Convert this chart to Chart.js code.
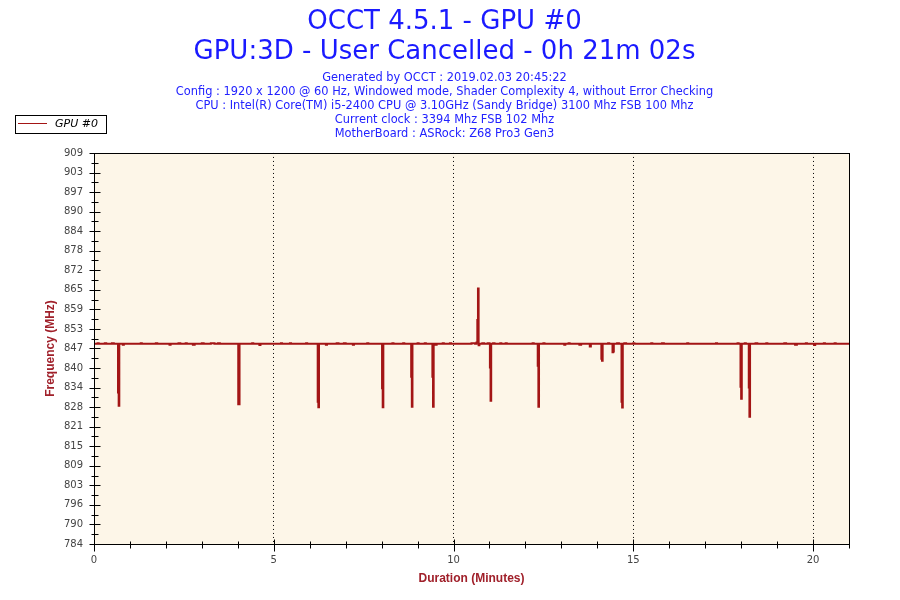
<!DOCTYPE html>
<html>
<head>
  <meta charset="UTF-8">
  <title>OCCT 4.5.1 - GPU #0</title>
  <script src="https://cdn.jsdelivr.net/npm/chart.js"></script>
  <style>
    body {
      margin: 0;
      background-color: #ffffff;
    }
    canvas {
      display: block;
    }
  </style>
</head>
<body>
  <canvas id="gpuChart" width="900" height="600"></canvas>

  <script>
    // minutes / MHz
    const minutes = [
      0, 0.1, 0.13, 0.3, 0.34, 0.5, 0.55, 0.668, 0.686, 0.704,
      0.8, 0.83, 1.3, 1.33, 1.72, 1.76, 2.1, 2.13, 2.35, 2.4,
      2.55, 2.58, 2.75, 2.8, 3.0, 3.05, 3.25, 3.35, 3.45, 3.5,
      4.012, 4.03, 4.048, 4.4, 4.43, 4.6, 4.63, 5.2, 5.23, 5.45,
      5.48, 5.9, 5.93, 6.222, 6.24, 6.258, 6.45, 6.48, 6.75, 6.8,
      6.95, 7.0, 7.2, 7.23, 7.6, 7.63, 8.012, 8.03, 8.048, 8.3,
      8.33, 8.6, 8.63, 8.822, 8.84, 8.858, 9.0, 9.03, 9.2, 9.23,
      9.412, 9.43, 9.448, 9.5, 9.53, 9.7, 9.73, 9.9, 9.93, 10.5,
      10.6, 10.64, 10.662, 10.68, 10.698, 10.72, 10.8, 10.85, 10.95, 11.0,
      11.012, 11.03, 11.048, 11.1, 11.14, 11.3, 11.33, 11.45, 11.48, 12.2,
      12.23, 12.342, 12.36, 12.378, 12.5, 12.53, 13.08, 13.11, 13.2, 13.23,
      13.5, 13.55, 13.79, 13.82, 14.112, 14.13, 14.148, 14.3, 14.33, 14.422,
      14.44, 14.458, 14.55, 14.6, 14.672, 14.69, 14.708, 14.75, 14.8, 15.0,
      15.03, 15.5, 15.53, 15.8, 15.85, 16.5, 16.53, 17.3, 17.33, 17.9,
      17.93, 17.982, 18.0, 18.018, 18.1, 18.13, 18.212, 18.23, 18.248, 18.4,
      18.45, 18.7, 18.73, 19.2, 19.25, 19.5, 19.55, 19.8, 19.83, 20.03,
      20.06, 20.3, 20.33, 20.6, 20.63, 21
    ];
    const gpuMhz = [
      848, 848.2, 848, 848.2, 848, 848.2, 848, 832.4, 828.2, 848,
      847.7, 848, 848.2, 848, 848.2, 848, 847.7, 848, 848.2, 848,
      848.2, 848, 847.7, 848, 848.2, 848, 848.2, 848, 848.2, 848,
      828.7, 828.7, 848, 848.2, 848, 847.6, 848, 848.2, 848, 848.2,
      848, 848.2, 848, 829.5, 827.7, 848, 847.7, 848, 848.2, 848,
      848.2, 848, 847.7, 848, 848.2, 848, 833.8, 827.7, 848, 848.2,
      848, 848.2, 848, 837.5, 827.9, 848, 848.2, 848, 848.2, 848,
      837.5, 827.9, 848, 847.7, 848, 848.2, 848, 848.2, 848, 848.2,
      848, 848.4, 855.6, 865.7, 847.5, 848, 848.2, 848, 848.2, 848,
      840.4, 829.8, 848, 848.2, 848, 848.2, 848, 848.2, 848, 848.2,
      848, 841, 827.9, 848, 848.2, 848, 847.7, 848, 848.2, 848,
      847.7, 848, 847.1, 848, 843.2, 842.6, 848, 848.2, 848, 845.3,
      845.5, 848, 848.2, 848, 829.5, 827.6, 848, 848.2, 848, 848.2,
      848, 848.2, 848, 848.2, 848, 848.2, 848, 848.2, 848, 848.2,
      848, 834.3, 830.4, 848, 848.2, 848, 834, 824.7, 848, 848.2,
      848, 848.2, 848, 848.2, 848, 847.7, 848, 848.2, 848, 847.6,
      848, 848.2, 848, 848.2, 848, 848
    ];
    const yTickLabels = ['784', '790', '796', '803', '809', '815', '821', '828', '834', '840',
      '847', '853', '859', '865', '872', '878', '884', '890', '897', '903', '909'];
    const xMajorTicks = [0, 5, 10, 15, 20];

    const titleLines = ['OCCT 4.5.1 - GPU #0', 'GPU:3D - User Cancelled - 0h 21m 02s'];
    const infoLines = [
      'Generated by OCCT : 2019.02.03 20:45:22',
      'Config : 1920 x 1200 @ 60 Hz, Windowed mode, Shader Complexity 4, without Error Checking',
      'CPU : Intel(R) Core(TM) i5-2400 CPU @ 3.10GHz (Sandy Bridge) 3100 Mhz FSB 100 Mhz',
      'Current clock : 3394 Mhz FSB 102 Mhz',
      'MotherBoard : ASRock: Z68 Pro3 Gen3'
    ];

    const lineColor = '#a31515';
    const axisTitleColor = '#a0202a';

    // cream plot background, black frame, tick crosses and the boxed legend
    const occtFrame = {
      id: 'occtFrame',
      beforeDraw(chart) {
        const a = chart.chartArea;
        const c = chart.ctx;
        c.save();
        c.fillStyle = '#fdf6e8';
        c.fillRect(a.left, a.top, a.right - a.left, a.bottom - a.top);
        c.restore();
      },
      afterDraw(chart) {
        const a = chart.chartArea;
        const c = chart.ctx;
        const xs = chart.scales.x;
        const ys = chart.scales.y;
        c.save();
        c.strokeStyle = '#000';
        c.lineWidth = 1;
        c.strokeRect(Math.round(a.left) + 0.5, Math.round(a.top) + 0.5,
          Math.round(a.right - a.left), Math.round(a.bottom - a.top));

        c.beginPath();
        const x0 = Math.round(a.left) + 0.5;
        ys.ticks.forEach((t, i) => {
          const py = Math.round(ys.getPixelForValue(t.value)) + 0.5;
          c.moveTo(x0 - 5, py); c.lineTo(x0 + 6, py);
          if (i < ys.ticks.length - 1) {
            const my = Math.round(ys.getPixelForValue(t.value + 3.125)) + 0.5;
            c.moveTo(x0 - 3, my); c.lineTo(x0 + 4, my);
          }
        });
        const y0 = Math.round(a.bottom) + 0.5;
        xs.ticks.forEach(t => {
          const px = Math.round(xs.getPixelForValue(t.value)) + 0.5;
          if (xMajorTicks.includes(t.value)) {
            c.moveTo(px, y0 - 5); c.lineTo(px, y0 + 7);
          } else {
            c.moveTo(px, y0 - 3); c.lineTo(px, y0 + 4);
          }
        });
        c.stroke();

        // legend box
        c.strokeRect(15.5, 115.5, 91, 18);
        c.strokeStyle = chart.data.datasets[0].borderColor;
        c.beginPath();
        c.moveTo(18, 123.5); c.lineTo(47, 123.5);
        c.stroke();
        c.fillStyle = '#000';
        c.font = 'italic 11px "DejaVu Sans"';
        c.textBaseline = 'middle';
        c.fillText(chart.data.datasets[0].label, 55, 124);
        c.restore();
      }
    };

    const ctx = document.getElementById('gpuChart').getContext('2d');
    const gpuChart = new Chart(ctx, {
      type: 'line',
      data: {
        labels: minutes,
        datasets: [{
          label: 'GPU #0',
          data: minutes.map((m, i) => ({ x: m, y: gpuMhz[i] })),
          borderColor: lineColor,
          borderWidth: 2,
          pointRadius: 0,
          stepped: true,
          fill: false
        }]
      },
      options: {
        responsive: false,
        animation: false,
        layout: {
          padding: { left: 40, right: 51, top: 0, bottom: 0 }
        },
        scales: {
          x: {
            type: 'linear',
            min: 0,
            max: 21,
            afterFit: s => { s.height = 56; },
            border: { display: false, dash: [1, 3] },
            grid: {
              drawTicks: false,
              color: c => (c.tick && [5, 10, 15, 20].includes(c.tick.value)) ? '#000' : 'rgba(0,0,0,0)',
              lineWidth: 1
            },
            ticks: {
              stepSize: 1,
              autoSkip: false,
              maxRotation: 0,
              padding: 10,
              color: '#444',
              font: { family: 'DejaVu Sans', size: 10 },
              callback: v => xMajorTicks.includes(v) ? String(v) : ''
            },
            title: {
              display: true,
              text: 'Duration (Minutes)',
              color: axisTitleColor,
              font: { family: 'Liberation Sans', size: 12, weight: 'bold' },
              padding: { top: 0, bottom: 14 }
            }
          },
          y: {
            min: 784,
            max: 909,
            afterFit: s => { s.width = 54; },
            border: { display: false },
            grid: { drawTicks: false, drawOnChartArea: false },
            ticks: {
              stepSize: 6.25,
              autoSkip: false,
              padding: 11,
              color: '#444',
              font: { family: 'DejaVu Sans', size: 10 },
              callback: (v, i) => yTickLabels[i]
            },
            title: {
              display: true,
              text: 'Frequency (MHz)',
              color: axisTitleColor,
              font: { family: 'Liberation Sans', size: 12, weight: 'bold' },
              padding: { top: 3, bottom: 0 }
            }
          }
        },
        plugins: {
          legend: { display: false },
          tooltip: { enabled: false },
          title: {
            display: true,
            text: titleLines,
            color: '#1a1aff',
            font: { family: 'DejaVu Sans', size: 26, weight: 'normal', lineHeight: 1.17 },
            padding: { top: 7, bottom: 0 }
          },
          subtitle: {
            display: true,
            text: infoLines,
            color: '#2222ff',
            font: { family: 'DejaVu Sans', size: 11.4, lineHeight: 1.23 },
            padding: { top: 3, bottom: 12 }
          }
        }
      },
      plugins: [occtFrame]
    });
  </script>
</body>
</html>
